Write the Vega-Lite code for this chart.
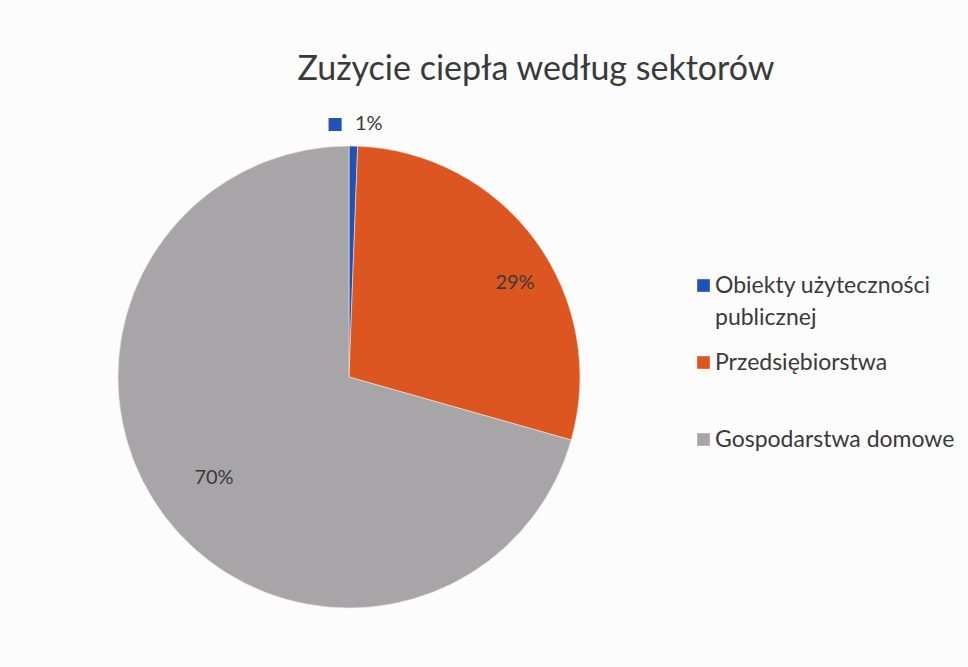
{
  "$schema": "https://vega.github.io/schema/vega-lite/v6.json",
  "autosize": "none",
  "padding": {"left": 0, "top": 0, "right": 270, "bottom": 0},
  "width": 698,
  "height": 754,
  "background": "#fdfcfd",
  "config": {
    "style": {"guide-label": {"lineHeight": 32}}
  },
  "title": {
    "text": "Zużycie ciepła według sektorów",
    "font": "Lato",
    "fontSize": 34,
    "fontWeight": "normal",
    "color": "#3a3a3a",
    "anchor": "middle",
    "frame": "group",
    "baseline": "alphabetic",
    "offset": 0,
    "dx": 187,
    "dy": 114
  },
  "data": {
    "values": [
      {"sektor": "Obiekty użyteczności publicznej", "udzial": 0.6, "etykieta": "1%", "ord": 1},
      {"sektor": "Przedsiębiorstwa", "udzial": 28.8, "etykieta": "29%", "ord": 2},
      {"sektor": "Gospodarstwa domowe", "udzial": 70.6, "etykieta": "70%", "ord": 3}
    ]
  },
  "encoding": {
    "theta": {"field": "udzial", "type": "quantitative", "stack": true},
    "order": {"field": "ord", "type": "quantitative"}
  },
  "layer": [
    {
      "mark": {"type": "arc", "outerRadius": 231, "stroke": "#f4e6dc", "strokeWidth": 0.6},
      "encoding": {
        "color": {
          "field": "sektor",
          "type": "nominal",
          "scale": {
            "domain": ["Obiekty użyteczności publicznej", "Przedsiębiorstwa", "Gospodarstwa domowe"],
            "range": ["#2152b8", "#dd5520", "#a8a5a8"]
          },
          "legend": {
            "title": null,
            "orient": "none",
            "legendX": 692,
            "legendY": 274,
            "symbolType": "square",
            "symbolSize": 160,
            "symbolStrokeWidth": 0,
            "labelFont": "Lato",
            "labelFontSize": 23,
            "labelColor": "#3a3a3a",
            "labelOffset": 0,
            "labelLimit": 300,
            "gridAlign": "all",
            "rowPadding": 21,
            "labelExpr": "datum.label == 'Obiekty użyteczności publicznej' ? ['Obiekty użyteczności', 'publicznej'] : datum.label"
          }
        }
      }
    },
    {
      "mark": {"type": "text", "radius": 178, "font": "Lato", "fontSize": 20, "color": "#3a3a3a", "dx": 22, "dy": 11},
      "encoding": {
        "text": {"condition": {"test": "datum.ord == 2", "field": "etykieta"}, "value": ""}
      }
    },
    {
      "mark": {"type": "text", "radius": 178, "font": "Lato", "fontSize": 20, "color": "#3a3a3a", "dx": 7, "dy": -6},
      "encoding": {
        "text": {"condition": {"test": "datum.ord == 3", "field": "etykieta"}, "value": ""}
      }
    },
    {
      "mark": {"type": "text", "radius": 253, "font": "Lato", "fontSize": 20, "color": "#3a3a3a", "dx": 15},
      "encoding": {
        "text": {"condition": {"test": "datum.ord == 1", "field": "etykieta"}, "value": ""}
      }
    },
    {
      "mark": {"type": "text", "radius": 253, "font": "DejaVu Sans", "fontSize": 17, "color": "#2152b8", "dx": -19},
      "encoding": {
        "text": {"condition": {"test": "datum.ord == 1", "value": "■"}, "value": ""}
      }
    }
  ]
}
